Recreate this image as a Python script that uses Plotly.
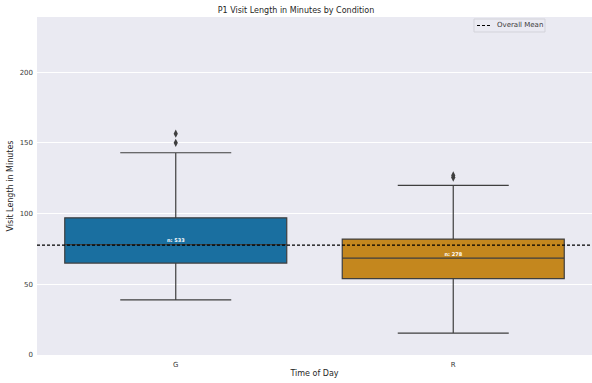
import plotly.graph_objects as go

categories = ["G", "R"]
q1 = [65, 54]
median = [78, 68.5]
q3 = [97, 82]
lower_whisker = [39, 15.5]
upper_whisker = [143, 120]
outliers_G = [150, 156.5]
outliers_R = [125.5, 127]
counts = [533, 278]
overall_mean = 77.7
box_colors = ["#1a6fa0", "#c4871e"]

FONT = "DejaVu Sans"
EDGE = "#3f3f3f"
TXT = "#3a3a3a"

W, H = 592, 383
L, R, T, B = 37, 0, 17, 28
PW, PH = W - L - R, H - T - B


def px_x(x):
    return (x - L) / PW


def px_y(y):
    return (H - B - y) / PH


fig = go.Figure()
for i, cat in enumerate(categories):
    fig.add_trace(go.Box(
        x=[cat], q1=[q1[i]], median=[median[i]], q3=[q3[i]],
        lowerfence=[lower_whisker[i]], upperfence=[upper_whisker[i]],
        fillcolor=box_colors[i], line=dict(color=EDGE, width=1.2),
        width=0.8, whiskerwidth=0.5, showlegend=False, hoverinfo="skip",
    ))

outs = [outliers_G, outliers_R]
for i, cat in enumerate(categories):
    fig.add_trace(go.Scatter(
        x=[cat] * len(outs[i]), y=outs[i], mode="markers",
        marker=dict(symbol="diamond-tall", size=6, color=EDGE),
        showlegend=False, hoverinfo="skip",
    ))

fig.add_trace(go.Scatter(
    x=categories, y=[m + 2.5 for m in median], mode="text",
    text=[f"<b>n: {c}</b>" for c in counts],
    textfont=dict(family=FONT, size=5, color="white"),
    showlegend=False, hoverinfo="skip",
))

fig.add_shape(type="line", xref="paper", x0=0, x1=1, yref="y",
              y0=overall_mean, y1=overall_mean,
              line=dict(color="black", width=1.1, dash="3px,2px"), layer="above")

# legend box (drawn manually to match compact matplotlib legend)
fig.add_shape(type="rect", xref="paper", yref="paper",
              x0=px_x(474), x1=px_x(545), y0=px_y(32), y1=px_y(19),
              line=dict(color="#d3d3da", width=1), fillcolor="#eaeaf2", layer="above")
fig.add_shape(type="line", xref="paper", yref="paper",
              x0=px_x(477), x1=px_x(491), y0=px_y(25.5), y1=px_y(25.5),
              line=dict(color="black", width=1.1, dash="3px,2px"), layer="above")
fig.add_annotation(xref="paper", yref="paper", x=px_x(495), y=px_y(25.5),
                   text="Overall Mean", showarrow=False, xanchor="left", yanchor="middle",
                   font=dict(family=FONT, size=7, color=TXT))

fig.update_layout(
    width=W, height=H,
    margin=dict(l=L, r=R, t=T, b=B, autoexpand=False),
    paper_bgcolor="white", plot_bgcolor="#eaeaf2",
    showlegend=False,
    font=dict(family=FONT, size=7, color=TXT),
    title=dict(text="P1 Visit Length in Minutes by Condition", x=0.5, xanchor="center",
               y=1 - 10 / H, yanchor="middle", font=dict(size=8, family=FONT, color="#262626")),
    xaxis=dict(type="category", categoryorder="array", categoryarray=categories,
               range=[-0.5, 1.5], showgrid=False, zeroline=False, showline=False,
               ticks="", tickfont=dict(size=7, color=TXT), automargin=False,
               ticklabelstandoff=4,
               title=dict(text="Time of Day", font=dict(size=8, color="#262626"), standoff=2)),
    yaxis=dict(range=[0, 239], tickvals=[0, 50, 100, 150, 200],
               showgrid=True, gridcolor="white", gridwidth=1, zeroline=False,
               showline=False, ticks="", tickfont=dict(size=7, color=TXT), automargin=False,
               ticklabelstandoff=3,
               title=dict(text="Visit Length in Minutes", font=dict(size=8, color="#262626"), standoff=4)),
)

fig.write_html("out.html", config={"displayModeBar": False},
               post_script="document.body.style.margin='0';document.body.style.overflow='hidden';")
